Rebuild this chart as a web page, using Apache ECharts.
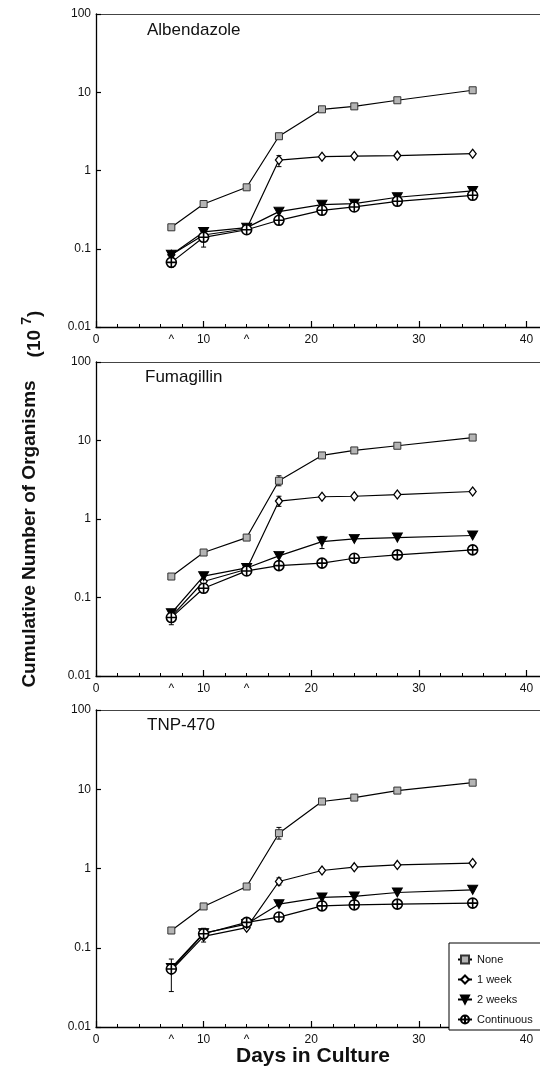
<!DOCTYPE html>
<html>
<head>
<meta charset="utf-8">
<script src="https://cdn.jsdelivr.net/npm/echarts@6/dist/echarts.min.js"></script>
<style>
  html, body { margin: 0; padding: 0; background: #fff; }
  #chart { width: 540px; height: 1067px; }
</style>
</head>
<body>
<div id="chart"></div>
<script>
// Sampling days (x values shared by every curve)
const days = [7, 10, 14, 17, 21, 24, 28, 35];

// Treatment groups
const groupNames = ['None', '1 week', '2 weeks', 'Continuous'];
const drugNames = ['Albendazole', 'Fumagillin', 'TNP-470'];

// Cumulative organisms (x10^7), Albendazole
const albNone = [0.188, 0.373, 0.61, 2.74, 6.05, 6.6, 7.9, 10.6];
const alb1wk  = [0.084, 0.15, 0.18, 1.36, 1.50, 1.53, 1.55, 1.64];
const alb2wk  = [0.084, 0.164, 0.186, 0.298, 0.366, 0.377, 0.455, 0.548];
const albCont = [0.067, 0.14, 0.175, 0.231, 0.31, 0.342, 0.404, 0.482];

// Fumagillin
const fumNone = [0.185, 0.374, 0.58, 3.07, 6.45, 7.47, 8.57, 10.9];
const fum1wk  = [0.057, 0.16, 0.229, 1.69, 1.92, 1.95, 2.05, 2.24];
const fum2wk  = [0.063, 0.187, 0.238, 0.339, 0.516, 0.558, 0.58, 0.616];
const fumCont = [0.0555, 0.131, 0.218, 0.255, 0.274, 0.316, 0.349, 0.404];

// TNP-470
const tnpNone = [0.165, 0.332, 0.593, 2.79, 7.0, 7.85, 9.62, 12.1];
const tnp1wk  = [0.052, 0.139, 0.179, 0.686, 0.944, 1.04, 1.11, 1.17];
const tnp2wk  = [0.0555, 0.153, 0.199, 0.355, 0.431, 0.444, 0.498, 0.538];
const tnpCont = [0.0539, 0.150, 0.209, 0.244, 0.338, 0.348, 0.355, 0.366];

// Error bars: [day, low, high]
const albErr = [[7, 0.058, 0.078], [10, 0.105, 0.165], [17, 1.12, 1.55]];
const fumErr = [[7, 0.045, 0.065], [10, 0.12, 0.2], [17, 2.65, 3.55], [17, 1.45, 1.95], [21, 0.42, 0.6]];
const tnpErr = [[7, 0.028, 0.072], [10, 0.118, 0.176], [17, 2.35, 3.3], [17, 0.62, 0.76]];

// Tick labels
const yTickLabels = ['0.01', '0.1', '1', '10', '100'];
const xTickLabels = ['0', '10', '20', '30', '40'];
const doseMarkDays = [7, 14];

const panelValues = [
  [albNone, alb1wk, alb2wk, albCont],
  [fumNone, fum1wk, fum2wk, fumCont],
  [tnpNone, tnp1wk, tnp2wk, tnpCont]
];
const panelErrors = [albErr, fumErr, tnpErr];

const FONT = '"Liberation Sans", Arial, Helvetica, sans-serif';

const grids = [
  { left: 96, top: 14, width: 452, height: 313, outerBoundsMode: 'none' },
  { left: 96, top: 362, width: 452, height: 314, outerBoundsMode: 'none' },
  { left: 96, top: 710, width: 452, height: 317, outerBoundsMode: 'none' }
];

const crossCircle = 'path://M1,10A9,9,0,1,1,19,10A9,9,0,1,1,1,10ZM10,1L10,19M1,10L19,10';
const groupStyles = [
  { symbol: 'rect', symbolSize: 7, symbolRotate: 0,
    itemStyle: { color: '#b4b4b4', borderColor: '#333', borderWidth: 1 } },
  { symbol: 'diamond', symbolSize: [7, 9], symbolRotate: 0,
    itemStyle: { color: '#fff', borderColor: '#000', borderWidth: 1.3 } },
  { symbol: 'triangle', symbolSize: [10, 9], symbolRotate: 180,
    itemStyle: { color: '#000', borderColor: '#000', borderWidth: 1 } },
  { symbol: crossCircle, symbolSize: 10, symbolRotate: 0,
    itemStyle: { color: '#fff', borderColor: '#000', borderWidth: 1.6 } }
];

const xAxes = [];
const yAxes = [];
const series = [];

grids.forEach((g, gi) => {
  // minor ticks every 2 days, carries the axis line and numeric labels
  xAxes.push({
    gridIndex: gi, type: 'value', position: 'bottom', min: 0, max: 42, interval: 2,
    axisLine: { show: true, onZero: false, lineStyle: { color: '#000', width: 1.3 } },
    axisTick: { show: true, inside: true, length: 3, lineStyle: { color: '#000', width: 1 } },
    axisLabel: {
      fontFamily: FONT, fontSize: 12, color: '#111', margin: 7,
      formatter: v => (v % 10 === 0 ? (xTickLabels[v / 10] || '') : '')
    },
    splitLine: { show: false }
  });
  // major ticks every 10 days
  xAxes.push({
    gridIndex: gi, type: 'value', position: 'bottom', min: 0, max: 42, interval: 10,
    axisLine: { show: false, onZero: false },
    axisTick: { show: true, inside: true, length: 6, lineStyle: { color: '#000', width: 1.2 } },
    axisLabel: { show: false },
    splitLine: { show: false }
  });
  // dosing marks under the axis
  xAxes.push({
    gridIndex: gi, type: 'value', position: 'bottom', min: 0, max: 42, interval: 7,
    axisLine: { show: false, onZero: false },
    axisTick: { show: false },
    axisLabel: {
      fontFamily: FONT, fontSize: 12, color: '#111', margin: 7,
      formatter: v => (doseMarkDays.indexOf(v) >= 0 ? '^' : '')
    },
    splitLine: { show: false }
  });
  // frame line along the top
  xAxes.push({
    gridIndex: gi, type: 'value', position: 'top', min: 0, max: 42,
    axisLine: { show: true, onZero: false, lineStyle: { color: '#444', width: 1 } },
    axisTick: { show: false }, axisLabel: { show: false }, splitLine: { show: false }
  });

  yAxes.push({
    gridIndex: gi, type: 'log', logBase: 10, min: 0.01, max: 100,
    axisLine: { show: true, onZero: false, lineStyle: { color: '#000', width: 1.3 } },
    axisTick: { show: true, inside: true, length: 5, lineStyle: { color: '#000', width: 1.2 } },
    axisLabel: {
      fontFamily: FONT, fontSize: 12, color: '#111', margin: 5,
      formatter: v => yTickLabels[Math.round(Math.log10(v)) + 2] || ''
    },
    splitLine: { show: false },
    minorTick: { show: false }
  });

  series.push({
    type: 'custom',
    xAxisIndex: gi * 4, yAxisIndex: gi,
    silent: true, z: 1,
    data: panelErrors[gi],
    encode: { x: 0, y: [1, 2] },
    renderItem: (params, api) => {
      const x = api.value(0);
      const lo = api.coord([x, api.value(1)]);
      const hi = api.coord([x, api.value(2)]);
      const s = { stroke: '#000', lineWidth: 1 };
      return {
        type: 'group',
        children: [
          { type: 'line', shape: { x1: lo[0], y1: lo[1], x2: hi[0], y2: hi[1] }, style: s },
          { type: 'line', shape: { x1: lo[0] - 2.5, y1: lo[1], x2: lo[0] + 2.5, y2: lo[1] }, style: s },
          { type: 'line', shape: { x1: hi[0] - 2.5, y1: hi[1], x2: hi[0] + 2.5, y2: hi[1] }, style: s }
        ]
      };
    }
  });

  panelValues[gi].forEach((vals, si) => {
    const st = groupStyles[si];
    series.push({
      name: groupNames[si],
      type: 'line',
      xAxisIndex: gi * 4, yAxisIndex: gi,
      data: days.map((d, i) => [d, vals[i]]),
      symbol: st.symbol,
      symbolSize: st.symbolSize,
      symbolRotate: st.symbolRotate,
      showAllSymbol: true,
      z: 2 + si,
      lineStyle: { color: '#000', width: 1.2 },
      itemStyle: st.itemStyle,
      emphasis: { disabled: true }
    });
  });
});

const titleStyle = { fontFamily: FONT, fontSize: 17, fontWeight: 'normal', color: '#111' };

const chart = echarts.init(document.getElementById('chart'), null, { renderer: 'canvas' });
chart.setOption({
  animation: false,
  backgroundColor: '#fff',
  grid: grids,
  xAxis: xAxes,
  yAxis: yAxes,
  title: [
    { text: drugNames[0], left: 147, top: 22, padding: 0, textStyle: titleStyle },
    { text: drugNames[1], left: 145, top: 369, padding: 0, textStyle: titleStyle },
    { text: drugNames[2], left: 147, top: 717, padding: 0, textStyle: titleStyle }
  ],
  legend: {
    data: groupNames,
    orient: 'vertical',
    left: 449, top: 943,
    padding: [11, 40, 5, 8],
    itemGap: 9,
    itemWidth: 14, itemHeight: 10,
    borderColor: '#000', borderWidth: 1,
    backgroundColor: '#fff',
    selectedMode: false,
    textStyle: { fontFamily: FONT, fontSize: 11, color: '#111' }
  },
  graphic: [
    {
      type: 'text', x: 30, y: 534, rotation: Math.PI / 2,
      style: {
        text: 'Cumulative Number of Organisms',
        font: 'bold 19px ' + FONT, fill: '#111',
        textAlign: 'center', textVerticalAlign: 'middle'
      }
    },
    {
      type: 'text', x: 32, y: 334, rotation: Math.PI / 2,
      style: {
        text: '{a|(10 }{b|7}{a|)}',
        textAlign: 'center', textVerticalAlign: 'middle', fill: '#111',
        rich: {
          a: { fontFamily: FONT, fontSize: 19, fontWeight: 'bold', lineHeight: 24, verticalAlign: 'bottom', fill: '#111' },
          b: { fontFamily: FONT, fontSize: 14, fontWeight: 'bold', lineHeight: 24, verticalAlign: 'top', fill: '#111' }
        }
      }
    },
    {
      type: 'text', x: 313, y: 1056,
      style: {
        text: 'Days in Culture',
        font: 'bold 21px ' + FONT, fill: '#111',
        textAlign: 'center', textVerticalAlign: 'middle'
      }
    }
  ],
  series: series
});
</script>
</body>
</html>
